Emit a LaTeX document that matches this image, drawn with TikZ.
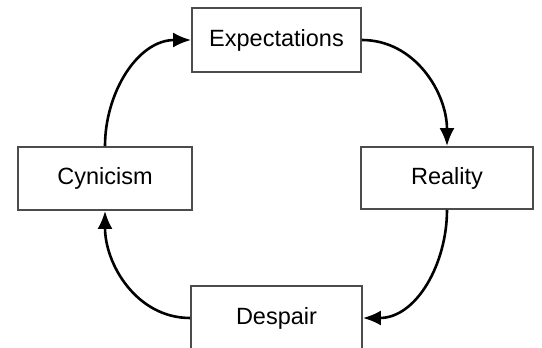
\documentclass[tikz,border=0pt]{standalone}
\usepackage{fontspec}
\setmainfont{Liberation Sans}
\usetikzlibrary{arrows.meta, positioning}

\begin{document}
\begin{tikzpicture}[x=1pt, y=1pt,
    stagebox/.style={draw=black!70, line width=1.8pt, fill=white, inner sep=0pt,
      font=\fontsize{23.5}{28}\selectfont},
    cyclearrow/.style={line width=2.6pt, -{Latex[length=18pt, width=15pt]}}]
  \useasboundingbox (0,0) rectangle (542,348);
  \node[stagebox, minimum width=169pt, minimum height=64pt] (expect) at (276.5,308) {Expectations};
  \node[stagebox, minimum width=172pt, minimum height=62pt] (reality) at (447,170) {Reality};
  \node[stagebox, minimum width=171pt, minimum height=64pt] (despair) at (276.5,30) {Despair};
  \node[stagebox, minimum width=174pt, minimum height=63pt] (cynic) at (105,169.5) {Cynicism};

  % the cycle
  \draw[cyclearrow] (expect.east) to[out=0, in=90] (reality.north);
  \draw[cyclearrow] (reality.south) to[out=-90, in=0] (despair.east);
  \draw[cyclearrow] (despair.west) to[out=180, in=-90] (cynic.south);
  \draw[cyclearrow] (cynic.north) to[out=90, in=180] (expect.west);
\end{tikzpicture}
\end{document}
